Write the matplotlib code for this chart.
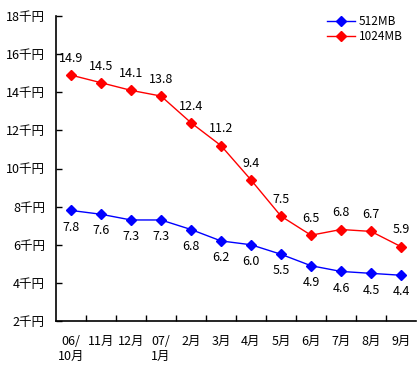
import numpy as np
import matplotlib.pyplot as plt

plt.rcParams['font.family'] = ['Noto Sans CJK JP', 'DejaVu Sans']

months = ['06/\n10月', '11月', '12月', '07/\n1月', '2月', '3月', '4月', '5月', '6月', '7月', '8月', '9月']
mb512 = [7.8, 7.6, 7.3, 7.3, 6.8, 6.2, 6.0, 5.5, 4.9, 4.6, 4.5, 4.4]
mb1024 = [14.9, 14.5, 14.1, 13.8, 12.4, 11.2, 9.4, 7.5, 6.5, 6.8, 6.7, 5.9]
yticks = [2, 4, 6, 8, 10, 12, 14, 16, 18]

fig = plt.figure(figsize=(4.2, 3.7), dpi=100)
ax = fig.add_axes([56 / 420, 49 / 370, 360 / 420, 305 / 370])

x = np.arange(len(months))
ax.plot(x, mb512, color='#0000ff', marker='D', markersize=5, lw=1, label='512MB')
ax.plot(x, mb1024, color='#ff0000', marker='D', markersize=5, lw=1, label='1024MB')

for i in x:
    ax.annotate(f'{mb512[i]:.1f}', (i, mb512[i]), xytext=(0, -12), textcoords='offset points',
                ha='center', va='center', fontsize=9)
    ax.annotate(f'{mb1024[i]:.1f}', (i, mb1024[i]), xytext=(0, 12), textcoords='offset points',
                ha='center', va='center', fontsize=9)

ax.set_xlim(-0.5, len(months) - 0.5)
ax.set_ylim(2, 18)
ax.set_yticks(yticks)
ax.set_yticklabels([f'{v}千円' for v in yticks], fontsize=9)
ax.set_xticks(x)
ax.set_xticklabels(months, fontsize=9, linespacing=1.2)
ax.set_xticks(x[:-1] + 0.5, minor=True)
ax.tick_params(axis='x', which='major', length=0, pad=10)
ax.tick_params(axis='x', which='minor', direction='in', length=4, width=1)
ax.tick_params(axis='y', direction='in', length=4, width=1, pad=8)

for s in ['top', 'right']:
    ax.spines[s].set_visible(False)
for s in ['left', 'bottom']:
    ax.spines[s].set_linewidth(1.2)

ax.legend(loc='upper right', bbox_to_anchor=(0.985, 1.03), frameon=False, fontsize=8.5,
          handlelength=2.4, handletextpad=0.3, borderpad=0.2, labelspacing=0.15)

fig.savefig('out.png', dpi=100)
